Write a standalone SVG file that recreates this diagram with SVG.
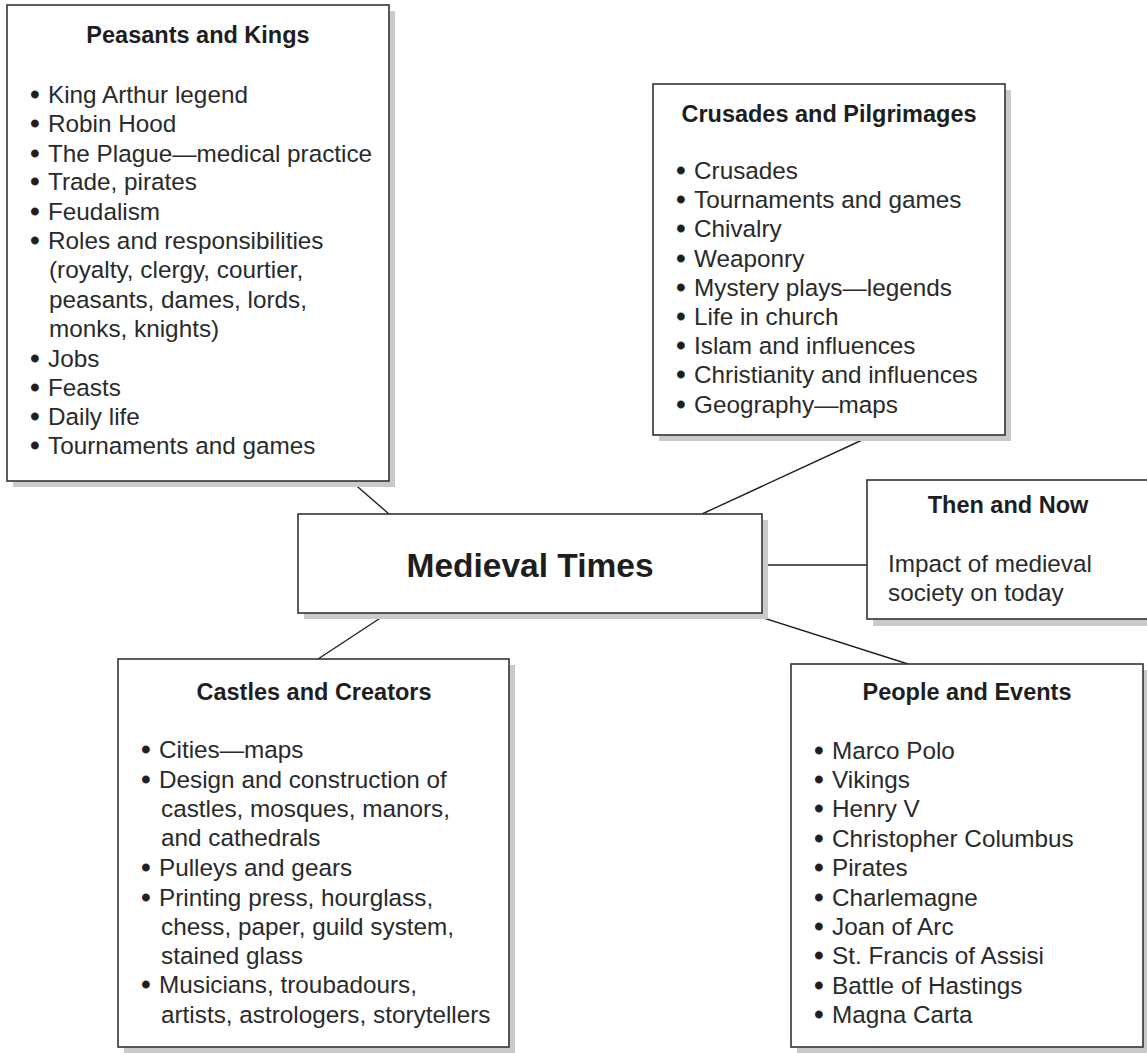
<svg xmlns="http://www.w3.org/2000/svg" width="1147" height="1053" viewBox="0 0 1147 1053">
<style>
.shadow{fill:#cacaca;stroke:none}
.box{fill:#fff;stroke:#333;stroke-width:1.6}
.title{font-family:"Liberation Sans",Arial,sans-serif;font-weight:bold;font-size:23.5px;fill:#1e1e1e;text-anchor:middle}
.main{font-family:"Liberation Sans",Arial,sans-serif;font-weight:bold;font-size:33.5px;fill:#1e1e1e;text-anchor:middle}
.item{font-family:"Liberation Sans",Arial,sans-serif;font-size:24.3px;fill:#2a2a2a}
.bul{font-family:"Liberation Sans",Arial,sans-serif;font-size:25px;fill:#1e1e1e;stroke:#1e1e1e;stroke-width:0.9;text-anchor:middle}
.conn{stroke:#222;stroke-width:1.4;fill:none}
</style>
<rect width="1147" height="1053" fill="#fff"/>
<g id="connectors">
<line class="conn" x1="351" y1="481" x2="389" y2="514"/>
<line class="conn" x1="873" y1="435" x2="702" y2="514"/>
<line class="conn" x1="762" y1="565" x2="867" y2="565"/>
<line class="conn" x1="388" y1="613" x2="318" y2="659"/>
<line class="conn" x1="748" y1="613" x2="908" y2="664"/>
</g>
<g id="peasants-and-kings">
<rect class="shadow" x="13" y="11" width="382" height="476"/>
<rect class="box" x="7" y="5" width="382" height="476"/>
<text class="title" x="198" y="43">Peasants and Kings</text>
<g class="bul">
<text x="35" y="103">•</text><text x="35" y="132">•</text><text x="35" y="162">•</text><text x="35" y="190">•</text><text x="35" y="220">•</text><text x="35" y="249">•</text><text x="35" y="367">•</text><text x="35" y="396">•</text><text x="35" y="425">•</text><text x="35" y="454">•</text>
</g>
<g class="item">
<text x="48" y="103">King Arthur legend</text>
<text x="48" y="132">Robin Hood</text>
<text x="48" y="162">The Plague—medical practice</text>
<text x="48" y="190">Trade, pirates</text>
<text x="48" y="220">Feudalism</text>
<text x="48" y="249">Roles and responsibilities</text>
<text x="49" y="278">(royalty, clergy, courtier,</text>
<text x="49" y="308">peasants, dames, lords,</text>
<text x="49" y="337">monks, knights)</text>
<text x="48" y="367">Jobs</text>
<text x="48" y="396">Feasts</text>
<text x="48" y="425">Daily life</text>
<text x="48" y="454">Tournaments and games</text>
</g>
</g>
<g id="crusades-and-pilgrimages">
<rect class="shadow" x="659" y="90" width="352" height="351"/>
<rect class="box" x="653" y="84" width="352" height="351"/>
<text class="title" x="829" y="122">Crusades and Pilgrimages</text>
<g class="bul">
<text x="681" y="179">•</text><text x="681" y="208">•</text><text x="681" y="237">•</text><text x="681" y="267">•</text><text x="681" y="296">•</text><text x="681" y="325">•</text><text x="681" y="354">•</text><text x="681" y="383">•</text><text x="681" y="413">•</text>
</g>
<g class="item">
<text x="694" y="179">Crusades</text>
<text x="694" y="208">Tournaments and games</text>
<text x="694" y="237">Chivalry</text>
<text x="694" y="267">Weaponry</text>
<text x="694" y="296">Mystery plays—legends</text>
<text x="694" y="325">Life in church</text>
<text x="694" y="354">Islam and influences</text>
<text x="694" y="383">Christianity and influences</text>
<text x="694" y="413">Geography—maps</text>
</g>
</g>
<g id="medieval-times">
<rect class="shadow" x="304" y="520" width="464" height="99"/>
<rect class="box" x="298" y="514" width="464" height="99"/>
<text class="main" x="530" y="577">Medieval Times</text>
</g>
<g id="then-and-now">
<rect class="shadow" x="873" y="486" width="290" height="140"/>
<rect class="box" x="867" y="480" width="290" height="139"/>
<text class="title" x="1008" y="513">Then and Now</text>
<g class="item">
<text x="888" y="572">Impact of medieval</text>
<text x="888" y="601">society on today</text>
</g>
</g>
<g id="castles-and-creators">
<rect class="shadow" x="124" y="665" width="391" height="395"/>
<rect class="box" x="118" y="659" width="391" height="388"/>
<text class="title" x="314" y="700">Castles and Creators</text>
<g class="bul">
<text x="146" y="758">•</text><text x="146" y="788">•</text><text x="146" y="876">•</text><text x="146" y="906">•</text><text x="146" y="993">•</text>
</g>
<g class="item">
<text x="159" y="758">Cities—maps</text>
<text x="159" y="788">Design and construction of</text>
<text x="161" y="817">castles, mosques, manors,</text>
<text x="161" y="846">and cathedrals</text>
<text x="159" y="876">Pulleys and gears</text>
<text x="159" y="906">Printing press, hourglass,</text>
<text x="161" y="935">chess, paper, guild system,</text>
<text x="161" y="964">stained glass</text>
<text x="159" y="993">Musicians, troubadours,</text>
<text x="161" y="1023">artists, astrologers, storytellers</text>
</g>
</g>
<g id="people-and-events">
<rect class="shadow" x="797" y="670" width="352" height="390"/>
<rect class="box" x="791" y="664" width="352" height="383"/>
<text class="title" x="967" y="700">People and Events</text>
<g class="bul">
<text x="819" y="759">•</text><text x="819" y="788">•</text><text x="819" y="817">•</text><text x="819" y="847">•</text><text x="819" y="876">•</text><text x="819" y="906">•</text><text x="819" y="935">•</text><text x="819" y="964">•</text><text x="819" y="994">•</text><text x="819" y="1023">•</text>
</g>
<g class="item">
<text x="832" y="759">Marco Polo</text>
<text x="832" y="788">Vikings</text>
<text x="832" y="817">Henry V</text>
<text x="832" y="847">Christopher Columbus</text>
<text x="832" y="876">Pirates</text>
<text x="832" y="906">Charlemagne</text>
<text x="832" y="935">Joan of Arc</text>
<text x="832" y="964">St. Francis of Assisi</text>
<text x="832" y="994">Battle of Hastings</text>
<text x="832" y="1023">Magna Carta</text>
</g>
</g>
</svg>
